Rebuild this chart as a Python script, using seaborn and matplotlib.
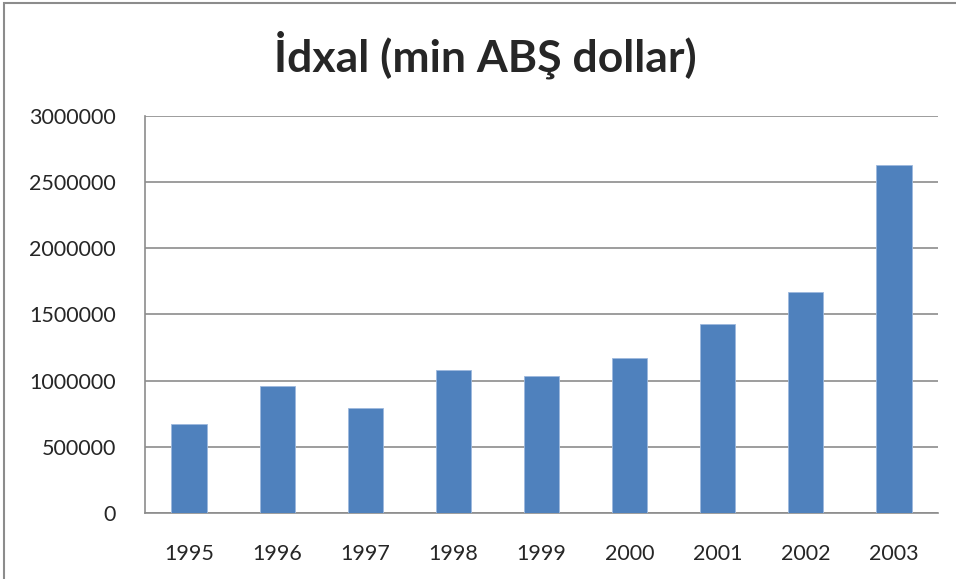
import matplotlib
matplotlib.use("Agg")
import matplotlib.pyplot as plt
import seaborn as sns
import pandas as pd
from matplotlib.patches import Rectangle

# Data
years = ["1995", "1996", "1997", "1998", "1999", "2000", "2001", "2002", "2003"]
imports = [669000, 957000, 790000, 1078000, 1033000, 1169000, 1427000, 1669000, 2626000]
y_ticks = [0, 500000, 1000000, 1500000, 2000000, 2500000, 3000000]

df = pd.DataFrame({"year": years, "value": imports})

sns.set_style("white")
plt.rcParams["font.family"] = ["Lato", "DejaVu Sans"]

fig = plt.figure(figsize=(9.56, 5.79), dpi=100)
ax = fig.add_axes([0.1517, 0.114, 0.8295, 0.6857])

# Bars
sns.barplot(data=df, x="year", y="value", color="#4F81BD", width=0.4,
            saturation=1, edgecolor="#9DB9DE", linewidth=0.6, ax=ax, zorder=3)

# Axes, ticks and grid
ax.set_ylim(0, 3000000)
ax.set_xlim(-0.5, len(years) - 0.5)
ax.set_yticks(y_ticks)
ax.set_yticklabels([str(t) for t in y_ticks], fontsize=15.5)
ax.yaxis.grid(True, color="#8C8C8C", linewidth=1.2, zorder=0)
ax.set_axisbelow(True)
ax.set_xlabel("")
ax.set_ylabel("")

ax.tick_params(axis="x", which="major", length=0, pad=22, labelsize=15.5)
ax.set_xticks([i - 0.5 for i in range(len(years) + 1)], minor=True)
ax.tick_params(axis="x", which="minor", length=8, color="#8C8C8C", width=1.2)
ax.tick_params(axis="y", length=9, color="#8C8C8C", width=1.2, pad=12)

for side in ["top", "right"]:
    ax.spines[side].set_visible(False)
for side in ["left", "bottom"]:
    ax.spines[side].set_color("#8C8C8C")
    ax.spines[side].set_linewidth(1.2)

# Title
fig.text(0.508, 0.905, "İdxal (min ABŞ dollar)", ha="center", va="center",
         fontsize=32, fontweight="bold")

# Chart border (left and top edges visible)
fig.patches.append(Rectangle((0.004, -0.05), 1.05, 1.045, transform=fig.transFigure,
                             fill=False, edgecolor="#8C8C8C", linewidth=1.5))

plt.savefig("out.png", dpi=100)
